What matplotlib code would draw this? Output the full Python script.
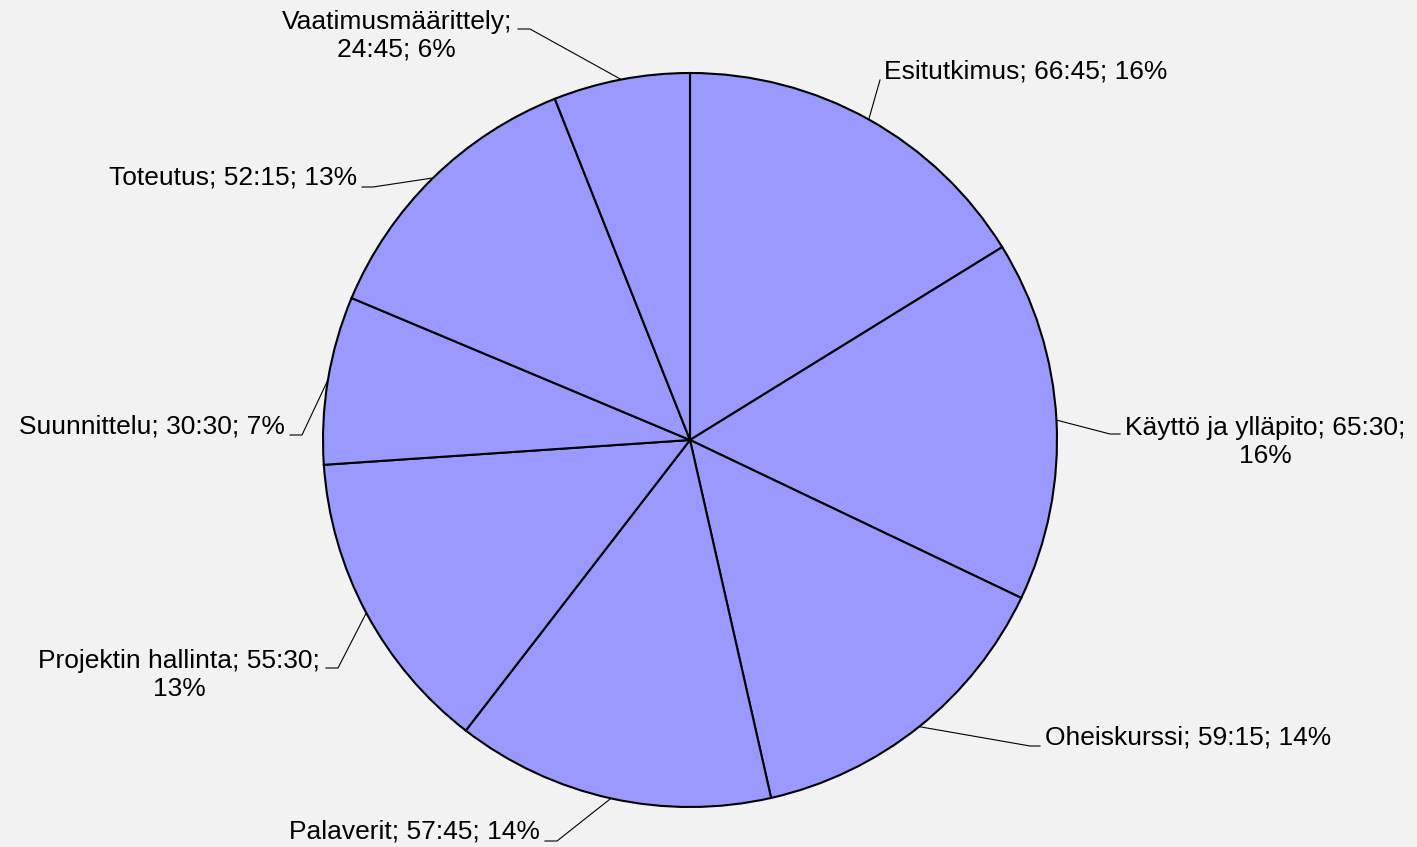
import matplotlib
matplotlib.use("Agg")
import numpy as np
import matplotlib.pyplot as plt

plt.rcParams["font.family"] = ["Liberation Sans", "DejaVu Sans"]

# hours spent per phase (h + min/60)
phases = ["Esitutkimus", "Käyttö ja ylläpito", "Oheiskurssi", "Palaverit",
          "Projektin hallinta", "Suunnittelu", "Toteutus", "Vaatimusmäärittely"]
hours = [66.75, 65.5, 59.25, 57.75, 55.5, 30.5, 52.25, 24.75]
# where the label text wraps (index of the ';' part after which to break, None = no wrap)
wrap_after = [None, 2, None, None, 2, None, None, 1]

# layout in pixels: pie centre, radius, label knee, text anchor, alignment
W, H = 1417, 847
CX, CY, R = 690, 440, 367
knees = [None, (1110, 434), (1030, 746), (557, 841), (338, 668), (302, 435), (373, 187), (530, 29)]
tails = [(880, 80), (1120, 434), (1040, 746), (545, 841), (326, 668), (290, 435), (362, 187), (518, 29)]
text_pos = [(884, 72), (1125, 442), (1045, 737), (540, 832), (320, 675), (285, 427), (357, 178), (512, 36)]
text_ha = ["left", "left", "left", "right", "right", "right", "right", "right"]


def px(x, y):
    return (x - CX) / R, (CY - y) / R


def fmt(name, h, total, brk):
    hh = int(h)
    mm = int(round((h - hh) * 60))
    parts = [name, f"{hh}:{mm:02d}", f"{round(h / total * 100):.0f}%"]
    if brk is None:
        return "; ".join(parts)
    return "; ".join(parts[:brk]) + ";\n" + "; ".join(parts[brk:])


fig = plt.figure(figsize=(W / 100, H / 100), dpi=100)
fig.patch.set_facecolor("#F2F2F2")
ax = fig.add_axes([0, 0, 1, 1])
ax.set_facecolor("none")

wedges, _ = ax.pie(hours, startangle=90, counterclock=False, radius=1,
                   colors=["#9999FF"] * len(hours),
                   wedgeprops=dict(edgecolor="black", linewidth=1.5))

total = sum(hours)
for i, w in enumerate(wedges):
    mid = np.deg2rad((w.theta1 + w.theta2) / 2)
    pts = [(np.cos(mid), np.sin(mid))]
    if knees[i] is not None:
        pts.append(px(*knees[i]))
    pts.append(px(*tails[i]))
    xs, ys = zip(*pts)
    ax.plot(xs, ys, color="black", linewidth=0.8)
    tx, ty = px(*text_pos[i])
    ax.text(tx, ty, fmt(phases[i], hours[i], total, wrap_after[i]),
            ha=text_ha[i], va="center", multialignment="center",
            fontsize=19, color="black")

ax.set_xlim(-CX / R, (W - CX) / R)
ax.set_ylim(-(H - CY) / R, CY / R)
ax.set_aspect("auto")
ax.axis("off")

fig.savefig("out.png", dpi=100, facecolor=fig.get_facecolor())
